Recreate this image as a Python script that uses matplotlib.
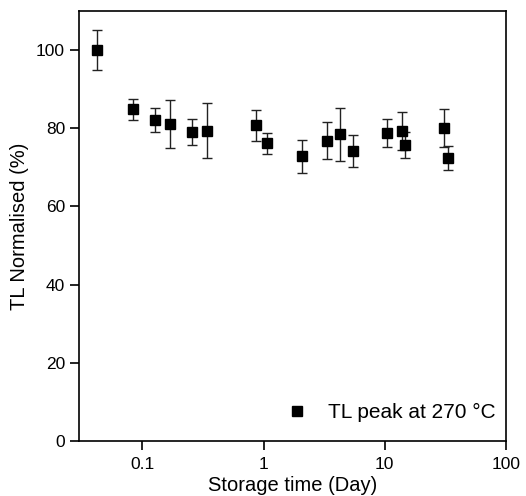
import matplotlib
matplotlib.use("Agg")
import matplotlib.pyplot as plt
import numpy as np

plt.rcParams['font.family'] = ['Liberation Sans', 'DejaVu Sans']

storage_days = [0.042, 0.084, 0.127, 0.169, 0.255, 0.339, 0.86, 1.07, 2.06, 3.35,
                4.28, 5.52, 10.5, 13.9, 14.7, 30.6, 33.1]
tl_norm = [100.0, 84.8, 82.1, 81.1, 79.1, 79.4, 80.7, 76.1, 72.8, 76.8,
           78.4, 74.1, 78.8, 79.2, 75.7, 80.1, 72.4]
tl_err = [5.1, 2.6, 3.1, 6.1, 3.3, 7.1, 4.0, 2.75, 4.2, 4.8,
          6.7, 4.1, 3.6, 4.9, 3.2, 4.8, 3.0]
x_ticks = [0.1, 1, 10, 100]
x_ticklabels = ['0.1', '1', '10', '100']
y_ticks = [0, 20, 40, 60, 80, 100]

fig = plt.figure(figsize=(5.26, 4.96), dpi=100)
ax = fig.add_axes([0.150, 0.111, 0.812, 0.867])

cont = ax.errorbar(storage_days, tl_norm, yerr=tl_err, fmt='s', color='black',
                   markersize=6.5, ecolor='#222222', elinewidth=1.0, capsize=3.5,
                   capthick=1.0, label='TL peak at 270 °C')

ax.set_xscale('log')
ax.set_xlim(0.03, 100)
ax.set_ylim(0, 110)
ax.set_xticks(x_ticks)
ax.set_xticklabels(x_ticklabels)
ax.xaxis.set_minor_locator(matplotlib.ticker.NullLocator())
ax.set_yticks(y_ticks)
ax.tick_params(axis='both', direction='out', length=6.5, width=1.2, labelsize=12.5,
               top=False, right=False)
ax.tick_params(axis='x', pad=5)
for s in ax.spines.values():
    s.set_linewidth(1.2)

ax.set_xlabel('Storage time (Day)', fontsize=14.5, labelpad=3)
ax.set_ylabel('TL Normalised (%)', fontsize=14.5, labelpad=5)

leg = ax.legend([cont[0]], ['TL peak at 270 °C'], loc='lower right', frameon=False,
                fontsize=15, handlelength=1.2, handletextpad=0.9,
                borderaxespad=0.0, bbox_to_anchor=(0.995, 0.025))

fig.savefig('out.png', dpi=100)
